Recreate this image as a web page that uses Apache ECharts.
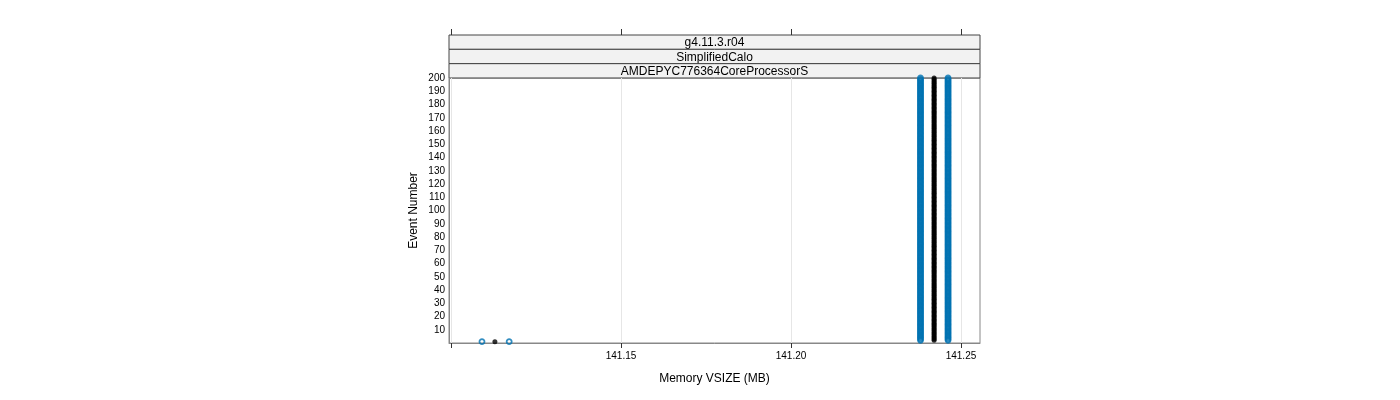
<!DOCTYPE html>
<html>
<head>
<meta charset="utf-8">
<script src="https://cdn.jsdelivr.net/npm/echarts@6/dist/echarts.min.js"></script>
<style>
  html, body { margin: 0; padding: 0; background: #fff; }
  #chart { width: 1400px; height: 400px; }
</style>
</head>
<body>
<div id="chart"></div>
<script>
// strip labels (top to bottom)
const stripLabels = ['g4.11.3.r04', 'SimplifiedCalo', 'AMDEPYC776364CoreProcessorS'];

// tick values on the x axis (141.10 has a tick but no label)
const xTicks = [141.10, 141.15, 141.20, 141.25];
const xLabels = [141.15, 141.20, 141.25];

// event numbers
const eventNumber = [
  1, 2, 3, 4, 5, 6, 7, 8, 9, 10, 11, 12, 13, 14, 15, 16, 17, 18, 19, 20,
  21, 22, 23, 24, 25, 26, 27, 28, 29, 30, 31, 32, 33, 34, 35, 36, 37, 38, 39, 40,
  41, 42, 43, 44, 45, 46, 47, 48, 49, 50, 51, 52, 53, 54, 55, 56, 57, 58, 59, 60,
  61, 62, 63, 64, 65, 66, 67, 68, 69, 70, 71, 72, 73, 74, 75, 76, 77, 78, 79, 80,
  81, 82, 83, 84, 85, 86, 87, 88, 89, 90, 91, 92, 93, 94, 95, 96, 97, 98, 99, 100,
  101, 102, 103, 104, 105, 106, 107, 108, 109, 110, 111, 112, 113, 114, 115, 116, 117, 118, 119, 120,
  121, 122, 123, 124, 125, 126, 127, 128, 129, 130, 131, 132, 133, 134, 135, 136, 137, 138, 139, 140,
  141, 142, 143, 144, 145, 146, 147, 148, 149, 150, 151, 152, 153, 154, 155, 156, 157, 158, 159, 160,
  161, 162, 163, 164, 165, 166, 167, 168, 169, 170, 171, 172, 173, 174, 175, 176, 177, 178, 179, 180,
  181, 182, 183, 184, 185, 186, 187, 188, 189, 190, 191, 192, 193, 194, 195, 196, 197, 198, 199, 200
];

// memory VSIZE (MB) per event, run A (blue, open)
const memA = [
  141.1091, 141.2381, 141.2381, 141.2381, 141.2381, 141.2381, 141.2381, 141.2381, 141.2381, 141.2381, 141.2381, 141.2381, 141.2381, 141.2381, 141.2381, 141.2381, 141.2381, 141.2381, 141.2381, 141.2381,
  141.2381, 141.2381, 141.2381, 141.2381, 141.2381, 141.2381, 141.2381, 141.2381, 141.2381, 141.2381, 141.2381, 141.2381, 141.2381, 141.2381, 141.2381, 141.2381, 141.2381, 141.2381, 141.2381, 141.2381,
  141.2381, 141.2381, 141.2381, 141.2381, 141.2381, 141.2381, 141.2381, 141.2381, 141.2381, 141.2381, 141.2381, 141.2381, 141.2381, 141.2381, 141.2381, 141.2381, 141.2381, 141.2381, 141.2381, 141.2381,
  141.2381, 141.2381, 141.2381, 141.2381, 141.2381, 141.2381, 141.2381, 141.2381, 141.2381, 141.2381, 141.2381, 141.2381, 141.2381, 141.2381, 141.2381, 141.2381, 141.2381, 141.2381, 141.2381, 141.2381,
  141.2381, 141.2381, 141.2381, 141.2381, 141.2381, 141.2381, 141.2381, 141.2381, 141.2381, 141.2381, 141.2381, 141.2381, 141.2381, 141.2381, 141.2381, 141.2381, 141.2381, 141.2381, 141.2381, 141.2381,
  141.2381, 141.2381, 141.2381, 141.2381, 141.2381, 141.2381, 141.2381, 141.2381, 141.2381, 141.2381, 141.2381, 141.2381, 141.2381, 141.2381, 141.2381, 141.2381, 141.2381, 141.2381, 141.2381, 141.2381,
  141.2381, 141.2381, 141.2381, 141.2381, 141.2381, 141.2381, 141.2381, 141.2381, 141.2381, 141.2381, 141.2381, 141.2381, 141.2381, 141.2381, 141.2381, 141.2381, 141.2381, 141.2381, 141.2381, 141.2381,
  141.2381, 141.2381, 141.2381, 141.2381, 141.2381, 141.2381, 141.2381, 141.2381, 141.2381, 141.2381, 141.2381, 141.2381, 141.2381, 141.2381, 141.2381, 141.2381, 141.2381, 141.2381, 141.2381, 141.2381,
  141.2381, 141.2381, 141.2381, 141.2381, 141.2381, 141.2381, 141.2381, 141.2381, 141.2381, 141.2381, 141.2381, 141.2381, 141.2381, 141.2381, 141.2381, 141.2381, 141.2381, 141.2381, 141.2381, 141.2381,
  141.2381, 141.2381, 141.2381, 141.2381, 141.2381, 141.2381, 141.2381, 141.2381, 141.2381, 141.2381, 141.2381, 141.2381, 141.2381, 141.2381, 141.2381, 141.2381, 141.2381, 141.2381, 141.2381, 141.2381
];

// run B (black, filled)
const memB = [
  141.1129, 141.2421, 141.2421, 141.2421, 141.2421, 141.2421, 141.2421, 141.2421, 141.2421, 141.2421, 141.2421, 141.2421, 141.2421, 141.2421, 141.2421, 141.2421, 141.2421, 141.2421, 141.2421, 141.2421,
  141.2421, 141.2421, 141.2421, 141.2421, 141.2421, 141.2421, 141.2421, 141.2421, 141.2421, 141.2421, 141.2421, 141.2421, 141.2421, 141.2421, 141.2421, 141.2421, 141.2421, 141.2421, 141.2421, 141.2421,
  141.2421, 141.2421, 141.2421, 141.2421, 141.2421, 141.2421, 141.2421, 141.2421, 141.2421, 141.2421, 141.2421, 141.2421, 141.2421, 141.2421, 141.2421, 141.2421, 141.2421, 141.2421, 141.2421, 141.2421,
  141.2421, 141.2421, 141.2421, 141.2421, 141.2421, 141.2421, 141.2421, 141.2421, 141.2421, 141.2421, 141.2421, 141.2421, 141.2421, 141.2421, 141.2421, 141.2421, 141.2421, 141.2421, 141.2421, 141.2421,
  141.2421, 141.2421, 141.2421, 141.2421, 141.2421, 141.2421, 141.2421, 141.2421, 141.2421, 141.2421, 141.2421, 141.2421, 141.2421, 141.2421, 141.2421, 141.2421, 141.2421, 141.2421, 141.2421, 141.2421,
  141.2421, 141.2421, 141.2421, 141.2421, 141.2421, 141.2421, 141.2421, 141.2421, 141.2421, 141.2421, 141.2421, 141.2421, 141.2421, 141.2421, 141.2421, 141.2421, 141.2421, 141.2421, 141.2421, 141.2421,
  141.2421, 141.2421, 141.2421, 141.2421, 141.2421, 141.2421, 141.2421, 141.2421, 141.2421, 141.2421, 141.2421, 141.2421, 141.2421, 141.2421, 141.2421, 141.2421, 141.2421, 141.2421, 141.2421, 141.2421,
  141.2421, 141.2421, 141.2421, 141.2421, 141.2421, 141.2421, 141.2421, 141.2421, 141.2421, 141.2421, 141.2421, 141.2421, 141.2421, 141.2421, 141.2421, 141.2421, 141.2421, 141.2421, 141.2421, 141.2421,
  141.2421, 141.2421, 141.2421, 141.2421, 141.2421, 141.2421, 141.2421, 141.2421, 141.2421, 141.2421, 141.2421, 141.2421, 141.2421, 141.2421, 141.2421, 141.2421, 141.2421, 141.2421, 141.2421, 141.2421,
  141.2421, 141.2421, 141.2421, 141.2421, 141.2421, 141.2421, 141.2421, 141.2421, 141.2421, 141.2421, 141.2421, 141.2421, 141.2421, 141.2421, 141.2421, 141.2421, 141.2421, 141.2421, 141.2421, 141.2421
];

// run C (blue, open)
const memC = [
  141.1171, 141.2462, 141.2462, 141.2462, 141.2462, 141.2462, 141.2462, 141.2462, 141.2462, 141.2462, 141.2462, 141.2462, 141.2462, 141.2462, 141.2462, 141.2462, 141.2462, 141.2462, 141.2462, 141.2462,
  141.2462, 141.2462, 141.2462, 141.2462, 141.2462, 141.2462, 141.2462, 141.2462, 141.2462, 141.2462, 141.2462, 141.2462, 141.2462, 141.2462, 141.2462, 141.2462, 141.2462, 141.2462, 141.2462, 141.2462,
  141.2462, 141.2462, 141.2462, 141.2462, 141.2462, 141.2462, 141.2462, 141.2462, 141.2462, 141.2462, 141.2462, 141.2462, 141.2462, 141.2462, 141.2462, 141.2462, 141.2462, 141.2462, 141.2462, 141.2462,
  141.2462, 141.2462, 141.2462, 141.2462, 141.2462, 141.2462, 141.2462, 141.2462, 141.2462, 141.2462, 141.2462, 141.2462, 141.2462, 141.2462, 141.2462, 141.2462, 141.2462, 141.2462, 141.2462, 141.2462,
  141.2462, 141.2462, 141.2462, 141.2462, 141.2462, 141.2462, 141.2462, 141.2462, 141.2462, 141.2462, 141.2462, 141.2462, 141.2462, 141.2462, 141.2462, 141.2462, 141.2462, 141.2462, 141.2462, 141.2462,
  141.2462, 141.2462, 141.2462, 141.2462, 141.2462, 141.2462, 141.2462, 141.2462, 141.2462, 141.2462, 141.2462, 141.2462, 141.2462, 141.2462, 141.2462, 141.2462, 141.2462, 141.2462, 141.2462, 141.2462,
  141.2462, 141.2462, 141.2462, 141.2462, 141.2462, 141.2462, 141.2462, 141.2462, 141.2462, 141.2462, 141.2462, 141.2462, 141.2462, 141.2462, 141.2462, 141.2462, 141.2462, 141.2462, 141.2462, 141.2462,
  141.2462, 141.2462, 141.2462, 141.2462, 141.2462, 141.2462, 141.2462, 141.2462, 141.2462, 141.2462, 141.2462, 141.2462, 141.2462, 141.2462, 141.2462, 141.2462, 141.2462, 141.2462, 141.2462, 141.2462,
  141.2462, 141.2462, 141.2462, 141.2462, 141.2462, 141.2462, 141.2462, 141.2462, 141.2462, 141.2462, 141.2462, 141.2462, 141.2462, 141.2462, 141.2462, 141.2462, 141.2462, 141.2462, 141.2462, 141.2462,
  141.2462, 141.2462, 141.2462, 141.2462, 141.2462, 141.2462, 141.2462, 141.2462, 141.2462, 141.2462, 141.2462, 141.2462, 141.2462, 141.2462, 141.2462, 141.2462, 141.2462, 141.2462, 141.2462, 141.2462
];

const FONT = 'Liberation Sans';
const BLUE = '#0072B2';
const xMin = 141.0994, xMax = 141.2556;

const pairs = (mem) => mem.map((m, i) => [m, eventNumber[i]]);

const chart = echarts.init(document.getElementById('chart'), null, { renderer: 'canvas' });

// strip headers above the panel
const stripTop = 35, stripH = 14.33, panelL = 449, panelW = 531;
const strips = stripLabels.map((txt, i) => ({
  type: 'group',
  children: [
    {
      type: 'rect',
      shape: { x: panelL, y: stripTop + i * stripH, width: panelW, height: stripH },
      style: { fill: '#f2f2f2', stroke: '#444', lineWidth: 1 }
    },
    {
      type: 'text',
      x: panelL + panelW / 2,
      y: stripTop + i * stripH + stripH / 2 + 1,
      style: { text: txt, fill: '#000', font: '12px "' + FONT + '"', align: 'center', verticalAlign: 'middle' }
    }
  ]
}));

const option = {
  animation: false,
  backgroundColor: '#fff',
  textStyle: { fontFamily: FONT },
  grid: {
    left: 449, right: 420, top: 78, bottom: 57,
    show: true, borderColor: '#888', borderWidth: 1, backgroundColor: 'transparent'
  },
  xAxis: [
    {
      type: 'value', min: xMin, max: xMax, position: 'bottom',
      name: 'Memory VSIZE (MB)', nameLocation: 'middle', nameGap: 30,
      nameTextStyle: { fontSize: 12, color: '#000', fontFamily: FONT },
      axisLine: { show: true, onZero: false, lineStyle: { color: '#888', width: 1 } },
      axisTick: { show: true, length: 5, lineStyle: { color: '#333' }, customValues: xTicks },
      axisLabel: { fontSize: 10, color: '#000', margin: 8, customValues: xLabels,
        formatter: (v) => v.toFixed(2) },
      splitLine: { show: true, lineStyle: { color: '#e6e6e6', width: 1 } }
    },
    {
      type: 'value', min: xMin, max: xMax, position: 'top', offset: 43,
      axisLine: { show: true, onZero: false, lineStyle: { color: 'rgba(0,0,0,0)' } },
      axisTick: { show: true, length: 6, lineStyle: { color: '#333' }, customValues: xTicks },
      axisLabel: { show: false },
      splitLine: { show: false }
    }
  ],
  yAxis: {
    type: 'value', min: 0, max: 200, interval: 10,
    name: 'Event Number', nameLocation: 'middle', nameGap: 29,
    nameTextStyle: { fontSize: 12, color: '#000', fontFamily: FONT },
    axisLine: { show: true, lineStyle: { color: '#888', width: 1 } },
    axisTick: { show: false },
    axisLabel: { fontSize: 10, color: '#000', margin: 4, padding: [2, 0, 0, 0],
      formatter: (v) => (v === 0 ? '' : String(v)) },
    splitLine: { show: false }
  },
  series: [
    {
      type: 'scatter', xAxisIndex: 0, data: pairs(memA), symbol: 'circle', symbolSize: 5,
      itemStyle: { color: 'transparent', borderColor: BLUE, borderWidth: 1.8 }
    },
    {
      type: 'scatter', xAxisIndex: 0, data: pairs(memB), symbol: 'circle', symbolSize: 5,
      itemStyle: { color: '#000' }
    },
    {
      type: 'scatter', xAxisIndex: 0, data: pairs(memC), symbol: 'circle', symbolSize: 5,
      itemStyle: { color: 'transparent', borderColor: BLUE, borderWidth: 1.8 }
    }
  ],
  graphic: strips
};

chart.setOption(option);
window.addEventListener('resize', () => { chart.resize() });
</script>
</body>
</html>
